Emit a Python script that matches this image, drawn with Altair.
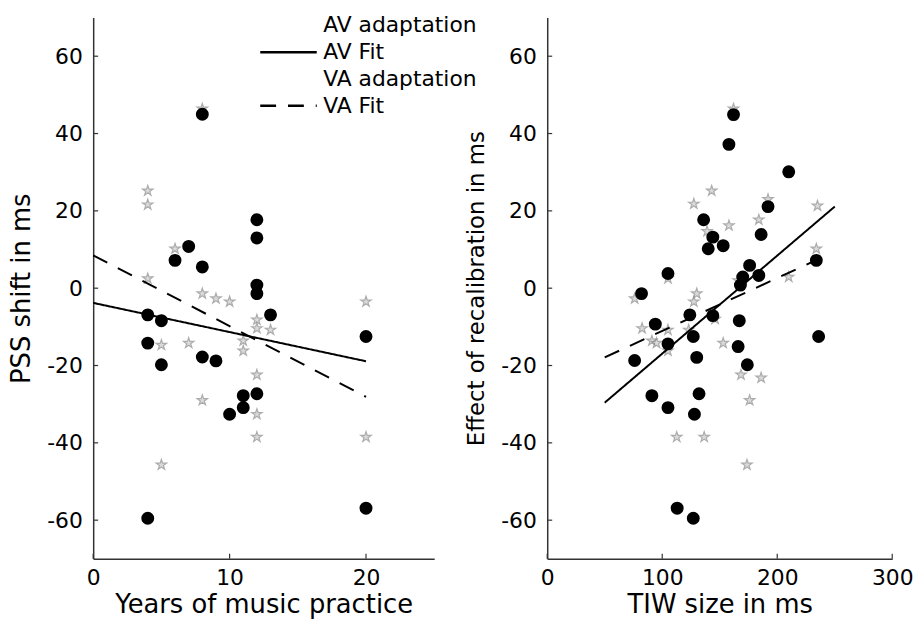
import altair as alt
import pandas as pd

# ---------------- data ----------------
# Left panel: years of music practice vs PSS shift
left_av_x = [8, 7, 6, 8, 12, 12, 12, 12, 4, 5, 13, 4, 20, 5, 8, 9, 11, 12, 11, 10, 4, 20]
left_av_y = [45, 10.8, 7.2, 5.5, 17.7, 13, 0.8, -1.4, -6.9, -8.4, -6.9, -14.2, -12.5, -19.8,
             -17.8, -18.8, -27.8, -27.3, -30.9, -32.6, -59.5, -56.9]
left_va_x = [8, 4, 4, 6, 4, 8, 9, 10, 20, 12, 12, 13, 11, 11, 5, 7, 12, 8, 12, 12, 20, 5]
left_va_y = [46.4, 25.2, 21.6, 10.2, 2.5, -1.4, -2.7, -3.5, -3.5, -8.2, -10.4, -10.8, -13.6,
             -16.2, -14.7, -14.2, -22.4, -29, -32.6, -38.5, -38.5, -45.7]
left_fit_x = [0, 20]
left_av_fit_y = [-3.8, -18.9]
left_va_fit_y = [8.5, -28.1]

# Right panel: TIW size vs effect of recalibration
right_av_x = [162, 158, 210, 192, 136, 144, 186, 140, 153, 234, 105, 176, 170, 168, 184, 82,
              124, 144, 167, 94, 127, 105, 166, 236, 76, 130, 174, 91, 132, 105, 128, 113, 127]
right_av_y = [44.9, 37.2, 30.1, 21.1, 17.7, 13.2, 13.9, 10.2, 11, 7.2, 3.8, 5.9, 2.9, 0.8, 3.3,
              -1.4, -6.9, -7.1, -8.4, -9.3, -12.5, -14.4, -15.1, -12.5, -18.7, -17.9, -19.8,
              -27.8, -27.3, -30.9, -32.6, -56.9, -59.5]
right_va_x = [162, 143, 127.5, 192, 235, 158, 184, 139, 234, 105, 210, 166, 76, 130, 127.5, 146,
              82.5, 105, 123, 91, 95, 105, 153, 168.5, 186, 176, 112.6, 136.5, 173.7]
right_va_y = [46.4, 25.2, 21.8, 23, 21.3, 16.2, 17.7, 14.7, 10.2, 2.5, 2.9, 2, -2.7, -1.4, -3.5,
              -8, -10.4, -10.8, -10.8, -13.6, -14.2, -16.2, -14.2, -22.4, -23.2, -29, -38.5,
              -38.5, -45.7]
right_fit_x_av = [50, 250]
right_av_fit_y = [-29.6, 21.1]
right_fit_x_va = [50, 243]
right_va_fit_y = [-17.9, 8.5]

y_ticks = [-60, -40, -20, 0, 20, 40, 60]
left_x_ticks = [0, 10, 20]
right_x_ticks = [0, 100, 200, 300]

legend_names = ["AV adaptation", "AV Fit", "VA adaptation", "VA Fit"]

# ---------------- style ----------------
FONT = "DejaVu Sans"
STAR = ("M0,-1L0.2245,-0.309L0.951,-0.309L0.363,0.118L0.588,0.809L0,0.382"
        "L-0.588,0.809L-0.363,0.118L-0.951,-0.309L-0.2245,-0.309Z")
H = 546

LEG = alt.Legend(orient="none", legendX=186, legendY=-3, title=None,
                 symbolType="M-5,0H5", symbolSize=130, symbolStrokeWidth=2.5,
                 labelFont=FONT, labelFontSize=22, labelColor="black",
                 labelOffset=24, rowPadding=5, padding=0)


def panel(av_x, av_y, va_x, va_y, fit_av_x, fit_av_y, fit_va_x, fit_va_y,
          xdom, xticks, xtitle, ytitle, width, ytitle_size):
    xs = alt.Scale(domain=xdom, nice=False, zero=False)
    ys = alt.Scale(domain=[-70, 70], nice=False, zero=False)
    xaxis = alt.Axis(values=xticks, ticks=False, grid=False, title=xtitle,
                     labelFlush=False, labelExpr="toString(datum.value)")
    yaxis = alt.Axis(values=y_ticks, ticks=False, grid=False, title=ytitle,
                     titleFontSize=ytitle_size, labelExpr="toString(datum.value)")

    df_av = pd.DataFrame({"x": av_x, "y": av_y})
    df_va = pd.DataFrame({"x": va_x, "y": va_y})
    df_fit = pd.DataFrame({
        "x": list(fit_av_x) + list(fit_va_x),
        "y": list(fit_av_y) + list(fit_va_y),
        "series": ["AV Fit"] * len(fit_av_x) + ["VA Fit"] * len(fit_va_x),
    })

    stars = alt.Chart(df_va).mark_point(
        shape=STAR, size=120, filled=True, fill="#cccccc", stroke="#8a8a8a", strokeWidth=1.2
    ).encode(x=alt.X("x:Q", scale=xs, axis=xaxis), y=alt.Y("y:Q", scale=ys, axis=yaxis))

    circles = alt.Chart(df_av).mark_circle(size=170, color="black", opacity=1).encode(
        x=alt.X("x:Q", scale=xs), y=alt.Y("y:Q", scale=ys))

    color_enc = alt.Color("series:N", scale=alt.Scale(
        domain=legend_names, range=["white", "black", "white", "black"]), legend=LEG)
    dash_enc = alt.StrokeDash("series:N", scale=alt.Scale(
        domain=legend_names, range=[[1, 0], [1, 0], [1, 0], [16, 12]]), legend=LEG)

    fits = alt.Chart(df_fit).mark_line(strokeWidth=2).encode(
        x=alt.X("x:Q", scale=xs), y=alt.Y("y:Q", scale=ys),
        color=color_enc, strokeDash=dash_enc, detail="series:N")

    ytick_rules = alt.Chart(pd.DataFrame({"v": y_ticks})).mark_rule(
        color="#333333", strokeWidth=1.2).encode(
        y=alt.Y("v:Q", scale=ys), x=alt.value(0), x2=alt.value(5))
    xtick_rules = alt.Chart(pd.DataFrame({"v": xticks})).mark_rule(
        color="#333333", strokeWidth=1.2).encode(
        x=alt.X("v:Q", scale=xs), y=alt.value(H), y2=alt.value(H - 5))

    return alt.layer(stars, circles, fits, ytick_rules, xtick_rules).properties(
        width=width, height=H)


left = panel(left_av_x, left_av_y, left_va_x, left_va_y,
             left_fit_x, left_av_fit_y, left_fit_x, left_va_fit_y,
             [0, 25], left_x_ticks, "Years of music practice", "PSS shift in ms", 344, 26)
right = panel(right_av_x, right_av_y, right_va_x, right_va_y,
              right_fit_x_av, right_av_fit_y, right_fit_x_va, right_va_fit_y,
              [0, 300], right_x_ticks, "TIW size in ms", "Effect of recalibration in ms", 348, 23)

chart = alt.hconcat(left, right, spacing=32).properties(
    padding={"left": 9, "top": 12, "right": 5, "bottom": 0},
    background="white",
).configure_view(strokeWidth=0).configure_axis(
    domainColor="#333333", domainWidth=1.5,
    labelFont=FONT, labelFontSize=22, labelColor="black",
    titleFont=FONT, titleFontSize=26, titleFontWeight="normal", titleColor="black",
).configure_axisY(labelPadding=11, titlePadding=12).configure_axisX(
    labelPadding=9, titlePadding=3)

chart.save("out.html", embed_options={"renderer": "svg", "actions": False})
